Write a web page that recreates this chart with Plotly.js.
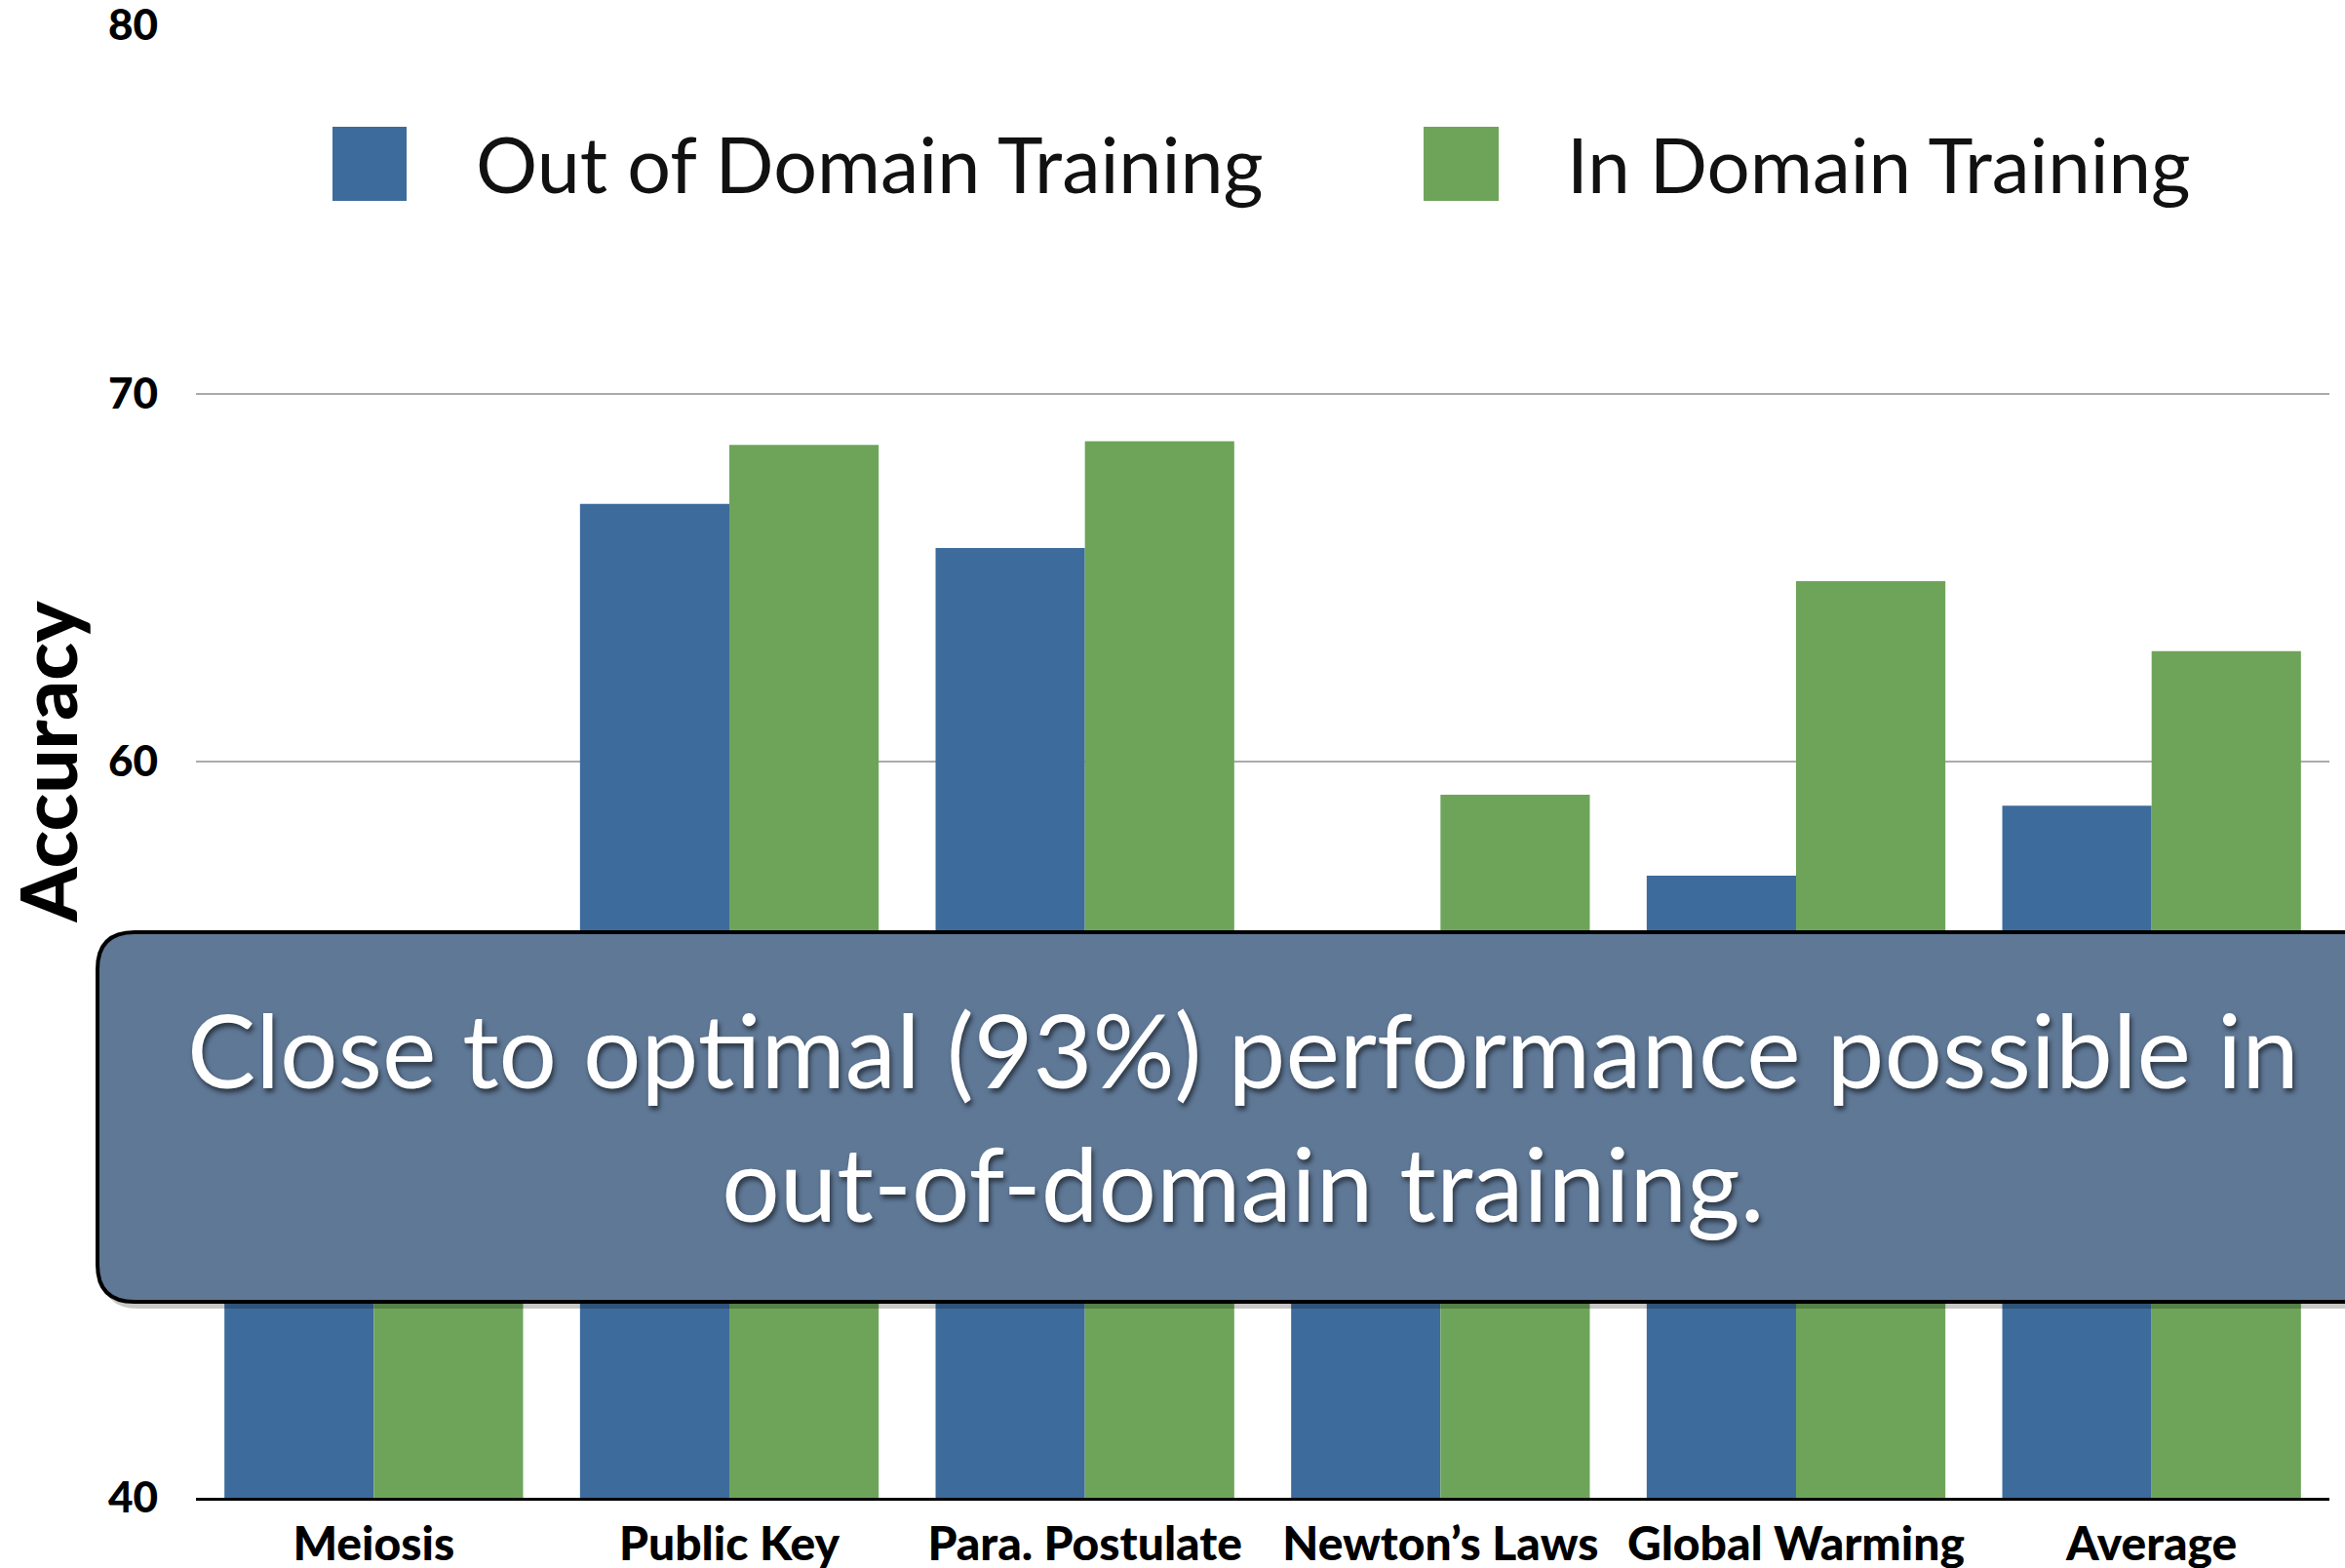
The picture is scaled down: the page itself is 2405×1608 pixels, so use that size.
<!DOCTYPE html>
<html><head><meta charset="utf-8">
<script src="https://cdn.plot.ly/plotly-3.0.1.min.js"></script>
<style>html,body{margin:0;padding:0;background:#fff;}</style>
</head><body><div id="chart" style="width:2405px;height:1608px;"></div>
<script>
// ---- data ----
const categories = ["Meiosis", "Public Key", "Para. Postulate", "Newton\u2019s Laws", "Global Warming", "Average"];
const outOfDomain = [52.0, 67.0, 65.8, 52.3, 56.9, 58.8];
const inDomain = [53.7, 68.6, 68.7, 59.1, 64.9, 63.0];
const seriesNames = ["Out of Domain Training", "In Domain Training"];
const yTickVals = [40, 50, 60, 70, 80];
const yTickText = ["40", "50", "60", "70", "80"];
const calloutText = "Close to optimal (93%) performance possible in<br>out-of-domain training.";

// ---- layout helpers ----
const W = 2405, H = 1608;
const M = {l: 201, r: 16, t: 26, b: 72};
const PW = W - M.l - M.r, PH = H - M.t - M.b;
const px = x => (x - M.l) / PW;
const py = y => (H - M.b - y) / PH;
const BLUE = "#3d6b9c", GREEN = "#6ea45a";
const FONT = "Lato, 'Open Sans', 'DejaVu Sans', sans-serif";

function roundRect(x0, y0, x1, y1, r) {
  const P = (x, y) => px(x).toFixed(5) + "," + py(y).toFixed(5);
  return "M" + P(x0 + r, y0) + " L" + P(x1 - r, y0) + " Q" + P(x1, y0) + " " + P(x1, y0 + r) +
    " L" + P(x1, y1 - r) + " Q" + P(x1, y1) + " " + P(x1 - r, y1) +
    " L" + P(x0 + r, y1) + " Q" + P(x0, y1) + " " + P(x0, y1 - r) +
    " L" + P(x0, y0 + r) + " Q" + P(x0, y0) + " " + P(x0 + r, y0) + " Z";
}

const traces = [
  {type: "bar", name: seriesNames[0], x: categories, y: outOfDomain, marker: {color: BLUE, line: {width: 0}}, showlegend: false},
  {type: "bar", name: seriesNames[1], x: categories, y: inDomain, marker: {color: GREEN, line: {width: 0}}, showlegend: false}
];

const shapes = [
  // legend swatches
  {type: "rect", xref: "paper", yref: "paper", x0: px(341), x1: px(417), y0: py(206), y1: py(130), fillcolor: BLUE, line: {width: 0}},
  {type: "rect", xref: "paper", yref: "paper", x0: px(1460), x1: px(1537), y0: py(206), y1: py(130), fillcolor: GREEN, line: {width: 0}},
  // callout shadow and box
  {type: "path", xref: "paper", yref: "paper", layer: "above", path: roundRect(104, 962, 2470, 1342, 38), fillcolor: "rgba(0,0,0,0.22)", line: {width: 0}},
  {type: "path", xref: "paper", yref: "paper", layer: "above", path: roundRect(100, 956, 2470, 1335, 38), fillcolor: "#5f7896", line: {color: "#000", width: 4}}
];

const annotations = [
  {xref: "paper", yref: "paper", x: px(486), y: py(168), xanchor: "left", yanchor: "middle", showarrow: false,
   text: seriesNames[0], font: {family: FONT, size: 79, color: "#111"}},
  {xref: "paper", yref: "paper", x: px(1605), y: py(168), xanchor: "left", yanchor: "middle", showarrow: false,
   text: seriesNames[1], font: {family: FONT, size: 78, color: "#111"}},
  {xref: "paper", yref: "paper", x: px(1275), y: py(1143), xanchor: "center", yanchor: "middle", showarrow: false,
   text: calloutText, align: "center",
   font: {family: FONT, size: 105, color: "#ffffff", shadow: "2px 4px 5px rgba(0,0,0,0.55)"}}
];

const layout = {
  width: W, height: H,
  margin: M,
  paper_bgcolor: "#ffffff", plot_bgcolor: "#ffffff",
  barmode: "group", bargap: 0.16, bargroupgap: 0,
  showlegend: false,
  font: {family: FONT, color: "#000"},
  xaxis: {
    type: "category", showgrid: false, zeroline: false,
    showline: true, linecolor: "#000", linewidth: 3,
    ticks: "", ticklabelstandoff: 3,
    tickfont: {family: FONT, size: 48, weight: 900, color: "#000"}
  },
  yaxis: {
    range: [40, 80], tickvals: yTickVals, ticktext: yTickText,
    showgrid: true, gridcolor: "#ababab", gridwidth: 2,
    zeroline: false, showline: false, ticks: "", ticklabelstandoff: 38,
    ticklabeloverflow: "allow",
    tickfont: {family: FONT, size: 44, weight: 900, color: "#000"},
    title: {text: "Accuracy", standoff: 34, font: {family: FONT, size: 80, weight: 900, color: "#000"}}
  },
  shapes: shapes,
  annotations: annotations
};

Plotly.newPlot("chart", traces, layout, {displayModeBar: false, staticPlot: true});
</script>
</body></html>
